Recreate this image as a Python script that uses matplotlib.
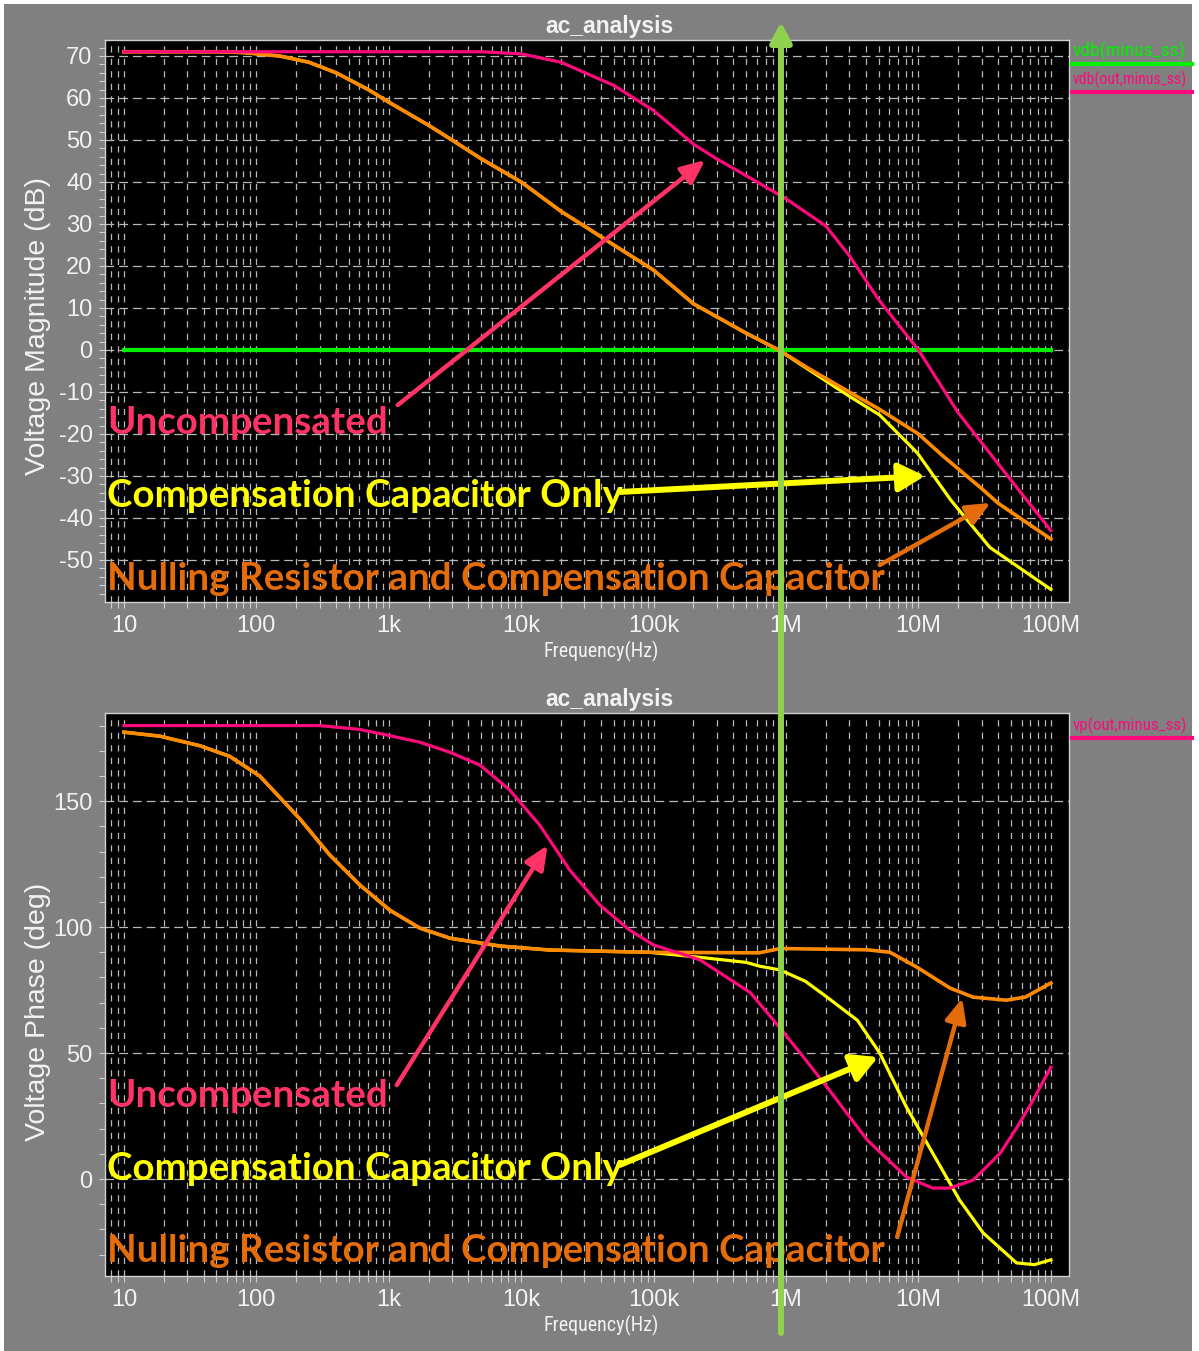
import matplotlib
matplotlib.use('Agg')
import matplotlib.pyplot as plt
from matplotlib import font_manager
from matplotlib.patches import Rectangle, FancyArrowPatch
from matplotlib.lines import Line2D
import numpy as np

# ---- magnitude (dB) ----
mag_freq_unc = [10, 5e3, 1e4, 2e4, 5e4, 1e5, 2e5, 3e5, 5e5, 1e6, 2e6, 3e6, 5e6, 1e7, 2e7, 5e7, 1e8]
mag_unc = [71, 71, 70.5, 68.5, 63, 57, 49, 45.5, 41.5, 36, 29.5, 22.5, 12, 0, -15, -31, -43]

mag_freq_null = [10, 50, 80, 150, 250, 400, 700, 1e3, 2e3, 3e3, 5e3, 1e4, 2e4, 3e4, 5e4,
                 1e5, 2e5, 5e5, 8.8e5, 1.5e6, 3e6, 5e6, 1e7, 1.5e7, 3e7, 4e7, 1e8]
mag_null = [71, 71, 70.8, 70, 68.5, 66, 62, 59, 53.5, 50, 45.5, 40, 33, 29.5, 25,
            19, 11, 4, 0, -4.5, -10, -14, -20, -25, -33, -36.5, -45]

mag_freq_cc = [10, 50, 80, 150, 250, 400, 700, 1e3, 2e3, 3e3, 5e3, 1e4, 2e4, 3e4, 5e4,
               1e5, 2e5, 5e5, 8.8e5, 1.2e6, 3e6, 5.1e6, 9.8e6, 1.75e7, 3.46e7, 1e8]
mag_cc = [71, 71, 70.8, 70, 68.5, 66, 62, 59, 53.5, 50, 45.5, 40, 33, 29.5, 25,
          19, 11, 4, 0, -2.8, -11, -15.5, -24.5, -35.7, -47, -57]

mag_freq_ref = [10, 1e8]
mag_ref = [0, 0]

# ---- phase (deg) ----
ph_freq_unc = [10, 300, 600, 1.02e3, 1.72e3, 2.9e3, 4.9e3, 8.2e3, 1.38e4, 2.33e4, 3.93e4, 6.6e4,
               1e5, 2.24e5, 5.37e5, 9e5, 1.28e6, 2.04e6, 4.1e6, 8.1e6, 1.28e7, 1.73e7,
               2.59e7, 4.15e7, 5.56e7, 7.34e7, 1e8]
ph_unc = [180, 180, 178.5, 176, 173.4, 169.4, 164.3, 154.4, 140.5, 122.6, 108.7, 98.8,
          92.9, 87, 74, 60, 50, 36.5, 15.5, 0.8, -3.6, -3.6,
          -0.4, 10.3, 20.6, 31.3, 44.4]

ph_freq_null = [10, 18.7, 37.5, 63, 106, 213, 359, 606, 1.02e3, 1.72e3, 2.9e3, 6.9e3, 1.64e4,
                9.3e4, 6.3e5, 9e5, 4.1e6, 6.1e6, 9.8e6, 1.73e7, 2.59e7, 4.6e7, 6.4e7, 1e8]
ph_null = [177.4, 175.8, 172, 167.8, 160, 143, 128.6, 116.7, 106.7, 99.6, 95.6, 92.5, 90.9,
           90, 89.8, 91.5, 91, 90, 84, 75.8, 72.2, 71, 72.2, 77.8]

ph_freq_cc = [10, 18.7, 37.5, 63, 106, 213, 359, 606, 1.02e3, 1.72e3, 2.9e3, 6.9e3, 1.64e4,
              9.3e4, 2.24e5, 5e5, 6.3e5, 9e5, 1.4e6, 2.04e6, 3.46e6, 5.1e6, 8.1e6, 1.28e7,
              2.04e7, 3.08e7, 5.5e7, 7.5e7, 1e8]
ph_cc = [177.4, 175.8, 172, 167.8, 160, 143, 128.6, 116.7, 106.7, 99.6, 95.6, 92.5, 90.9,
         90, 88, 86, 84.5, 83, 78.5, 72.2, 63, 50, 28.6, 10.3,
         -8.3, -21.4, -33.3, -34, -32.1]

freq_ticks = [10, 100, 1e3, 1e4, 1e5, 1e6, 1e7, 1e8]
freq_labels = ['10', '100', '1k', '10k', '100k', '1M', '10M', '100M']
mag_ticks = [70, 60, 50, 40, 30, 20, 10, 0, -10, -20, -30, -40, -50]
ph_ticks = [150, 100, 50, 0]

C_MAG = '#ff0a7c'
C_ORG = '#ff8a00'
C_YEL = '#ffff00'
C_GRN = '#00f000'
C_TXT_PINK = '#ff3366'
C_TXT_ORG = '#e46c0a'
C_BG = '#808080'
C_FG = '#f2f2f2'

installed = {f.name for f in font_manager.fontManager.ttflist}
narrow_name = next((n for n in ['Liberation Sans Narrow', 'Roboto Condensed',
                                'Open Sans Condensed', 'DejaVu Sans Condensed']
                    if n in installed), 'Liberation Sans')
narrow = [narrow_name, 'DejaVu Sans']
sans = ['Liberation Sans', 'DejaVu Sans']

W, H = 1199, 1351
fig = plt.figure(figsize=(W / 100, H / 100), dpi=100, facecolor='white')
renderer = fig.canvas.get_renderer()

panel = Rectangle((4 / W, 0), (1192 - 4) / W, 1 - 4 / H, transform=fig.transFigure,
                  facecolor=C_BG, edgecolor='none', zorder=-10)
fig.add_artist(panel)


def px(x, y):
    return x / W, 1 - y / H


def fit_width(t, max_px):
    # shrink a text until it is no wider than max_px
    w = t.get_window_extent(renderer).width
    if w > max_px:
        t.set_fontsize(t.get_fontsize() * max_px / w)


def setup(ax, ylim, yticks, yminor):
    ax.set_facecolor('black')
    ax.set_xscale('log')
    ax.set_xlim(7.2, 1.37e8)
    ax.set_ylim(*ylim)
    ax.set_xticks(freq_ticks, freq_labels)
    ax.set_yticks(yticks, [str(t) for t in yticks])
    ax.set_yticks(yminor, minor=True)
    ax.xaxis.set_minor_locator(matplotlib.ticker.LogLocator(base=10, subs=np.arange(2, 10)))
    ax.xaxis.set_minor_formatter(matplotlib.ticker.NullFormatter())
    for s in ax.spines.values():
        s.set_color('#d0d0d0')
        s.set_linewidth(1.0)
    ax.tick_params(which='both', colors='#d0d0d0', labelcolor=C_FG, labelsize=17,
                   direction='out', length=4, width=0.8, pad=5)
    for lab in ax.get_xticklabels() + ax.get_yticklabels():
        lab.set_family(sans)
    ax.grid(True, which='both', axis='x', color='#b8b8b8', lw=0.9, dashes=(5, 5))
    ax.grid(True, which='major', axis='y', color='#b8b8b8', lw=0.9, dashes=(7, 4))
    ax.set_axisbelow(True)


ax1 = fig.add_axes([105 / W, 1 - 602 / H, 964 / W, 562 / H])
setup(ax1, (-60, 73.8), mag_ticks, np.arange(-58, 73, 2))
ax1.plot(mag_freq_ref, mag_ref, color=C_GRN, lw=3)
ax1.plot(mag_freq_cc, mag_cc, color=C_YEL, lw=2.3)
ax1.plot(mag_freq_null, mag_null, color=C_ORG, lw=2.6)
ax1.plot(mag_freq_unc, mag_unc, color=C_MAG, lw=2.3)

ax2 = fig.add_axes([105 / W, 1 - 1276 / H, 964 / W, 563 / H])
setup(ax2, (-38.5, 185), ph_ticks, np.arange(-30, 185, 10))
ax2.plot(ph_freq_cc, ph_cc, color=C_YEL, lw=2.3)
ax2.plot(ph_freq_null, ph_null, color=C_ORG, lw=2.6)
ax2.plot(ph_freq_unc, ph_unc, color=C_MAG, lw=2.3)

label_font = dict(family=['Lato', 'DejaVu Sans'], fontweight='bold', fontsize=27.7)


def callout(ax, text, color, ty, tail, head, lw, hl, hw):
    ax.text(7.5, ty, text, color=color, va='center', ha='left', zorder=6, **label_font)
    ax.annotate('', xy=head, xytext=tail, zorder=6,
                arrowprops=dict(arrowstyle=f'-|>,head_length={hl},head_width={hw}',
                                color=color, lw=lw, shrinkA=0, shrinkB=0,
                                mutation_scale=20))


callout(ax1, 'Uncompensated', C_TXT_PINK, -17.3, (1170, -13.1), (2.45e5, 45.2), 3.2, 0.72, 0.32)
callout(ax1, 'Compensation Capacitor Only', C_YEL, -34.7, (5.57e4, -33.8), (1.12e7, -30), 4.3, 0.79, 0.43)
callout(ax1, 'Nulling Resistor and Compensation Capacitor', C_TXT_ORG, -54.5,
        (5.1e6, -51.2), (3.5e7, -36.4), 3.2, 0.72, 0.32)

callout(ax2, 'Uncompensated', C_TXT_PINK, 33.0, (1150, 37.3), (1.58e4, 132.5), 3.2, 0.72, 0.32)
callout(ax2, 'Compensation Capacitor Only', C_YEL, 4.1, (5.57e4, 5.6), (4.95e6, 48.4), 4.3, 0.79, 0.43)
callout(ax2, 'Nulling Resistor and Compensation Capacitor', C_TXT_ORG, -28.5,
        (6.9e6, -23), (2.14e7, 71.8), 3.2, 0.72, 0.32)

# titles, axis labels
for ty in (26, 700):
    fig.text(*px(609, ty), 'ac_analysis', color=C_FG, ha='center', va='center',
             fontsize=16.5, fontweight='bold', family=sans)
for ty in (651, 1325):
    t = fig.text(*px(601, ty), 'Frequency(Hz)', color=C_FG, ha='center', va='center',
                 fontsize=14.5, family=narrow)
    fit_width(t, 116)
fig.text(*px(38, 326), 'Voltage Magnitude (dB)', color=C_FG, ha='center', va='center',
         rotation=90, fontsize=20.5, family=sans)
fig.text(*px(38, 1012), 'Voltage Phase (deg)', color=C_FG, ha='center', va='center',
         rotation=90, fontsize=20.5, family=sans)

# trace names on the right
traces = [('vdb(minus_ss)', C_GRN, 51, 64), ('vdb(out,minus_ss)', C_MAG, 79, 92),
          ('vp(out,minus_ss)', C_MAG, 725, 738)]
for name, col, ty, uy in traces:
    t = fig.text(*px(1073, ty), name, color=col, ha='left', va='center', fontsize=14,
                 family=narrow)
    fit_width(t, 115)
    fig.add_artist(Line2D([1072 / W, 1192 / W], [1 - uy / H, 1 - uy / H],
                          transform=fig.transFigure, color=col, lw=3))

# unity-gain marker spanning both plots
marker = FancyArrowPatch(px(781, 1333), px(781, 22), transform=fig.transFigure,
                         arrowstyle='-|>,head_length=0.6,head_width=0.32',
                         mutation_scale=20, color='#8fd14f', lw=4.3,
                         shrinkA=0, shrinkB=0, zorder=20)
fig.add_artist(marker)

fig.savefig('out.png', dpi=100, facecolor='white')
